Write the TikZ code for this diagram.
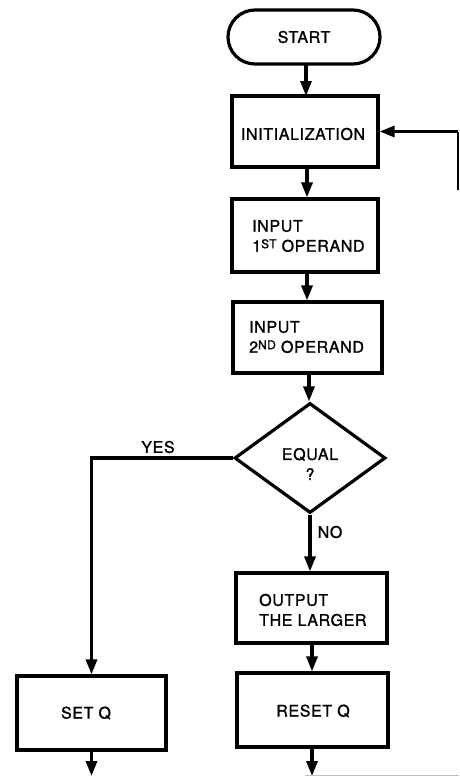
\documentclass[tikz,border=0pt]{standalone}
\usepackage{fontspec}
\setmainfont{TeX Gyre Heros}[LetterSpace=4, FakeBold=1.2]
\usetikzlibrary{shapes.misc,shapes.geometric,arrows.meta}
\newcommand{\supr}[1]{\raisebox{3.5pt}{\fontsize{12}{12}\selectfont #1}}
\tikzset{
  box/.style={draw, line width=3.2pt, rectangle, inner sep=0pt},
  term/.style={draw, line width=3.2pt, rounded rectangle, inner sep=0pt, minimum width=152pt, minimum height=54pt},
  dec/.style={draw, line width=3.2pt, diamond, inner sep=0pt, minimum width=151pt, minimum height=110pt},
  txt/.style={inner sep=0pt, font=\fontsize{16}{20}\selectfont, align=left},
  lbl/.style={inner sep=0pt, font=\fontsize{16}{20}\selectfont},
  flow/.style={line width=3.2pt, -{Triangle[length=15pt,width=11pt]}},
  line/.style={line width=3.2pt}
}
\begin{document}
\begin{tikzpicture}[x=1pt,y=-1pt]
\useasboundingbox (0,0) rectangle (459,776);
\node[term] (start) at (304,37) {};
\node[lbl] (startt) at (304,37) {START};
\node[box, minimum width=146pt, minimum height=71pt] (init) at (305,131.5) {};
\node[lbl] (initt) at (303,134) {INITIALIZATION};
\node[box, minimum width=146pt, minimum height=73pt] (in1) at (305,235.5) {};
\node[txt, anchor=west] (in1t) at (252,236) {INPUT\\1\supr{ST} OPERAND};
\node[box, minimum width=149pt, minimum height=71pt] (in2) at (307.5,337.5) {};
\node[txt, anchor=west] (in2t) at (249,337) {INPUT\\2\supr{ND} OPERAND};
\node[dec] (eq) at (310,458) {};
\node[lbl, align=center] (eqt) at (310,464) {EQUAL\\?};
\node[box, minimum width=151pt, minimum height=70pt] (out) at (311.5,608) {};
\node[txt, anchor=west] (outt) at (259,610) {OUTPUT\\THE LARGER};
\node[box, minimum width=151pt, minimum height=74pt] (reset) at (312.5,710) {};
\node[lbl] (resett) at (313,711) {RESET Q};
\node[box, minimum width=149pt, minimum height=74pt] (setq) at (91.5,713) {};
\node[lbl] (setqt) at (86,713) {SET Q};
\node[lbl] (yes) at (158,447) {YES};
\node[lbl] (no) at (330,532) {NO};
\coordinate (rend) at (312,776);
\coordinate (send) at (91.5,776);
\coordinate (fb) at (458,190);
\coordinate (yc) at (91.5,458);

\draw[flow] (306,64) -- (306,96);
\draw[flow] (init.south -| 307,0) -- (in1.north -| 307,0);
\draw[flow] (in1.south -| 307,0) -- (in2.north -| 307,0);
\draw[flow] (in2.south -| 309,0) -- (eq.north -| 309,0);
\draw[flow] (eq.south) -- (out.north -| eq.south);
\draw[flow] (out.south -| 312,0) -- (reset.north -| 312,0);
\draw[flow] (reset.south -| rend) -- (rend);
\draw[flow] (setq.south) -- (send);
\draw[flow] (eq.west) -- (yc) -- (setq.north);
\draw[line width=1.4pt] (fb) -- (458,131.5);
\draw[flow] (458,131.5) -- (init.east);
\draw[gray!50, line width=1pt] (305,775) -- (459,775);
\end{tikzpicture}
\end{document}
